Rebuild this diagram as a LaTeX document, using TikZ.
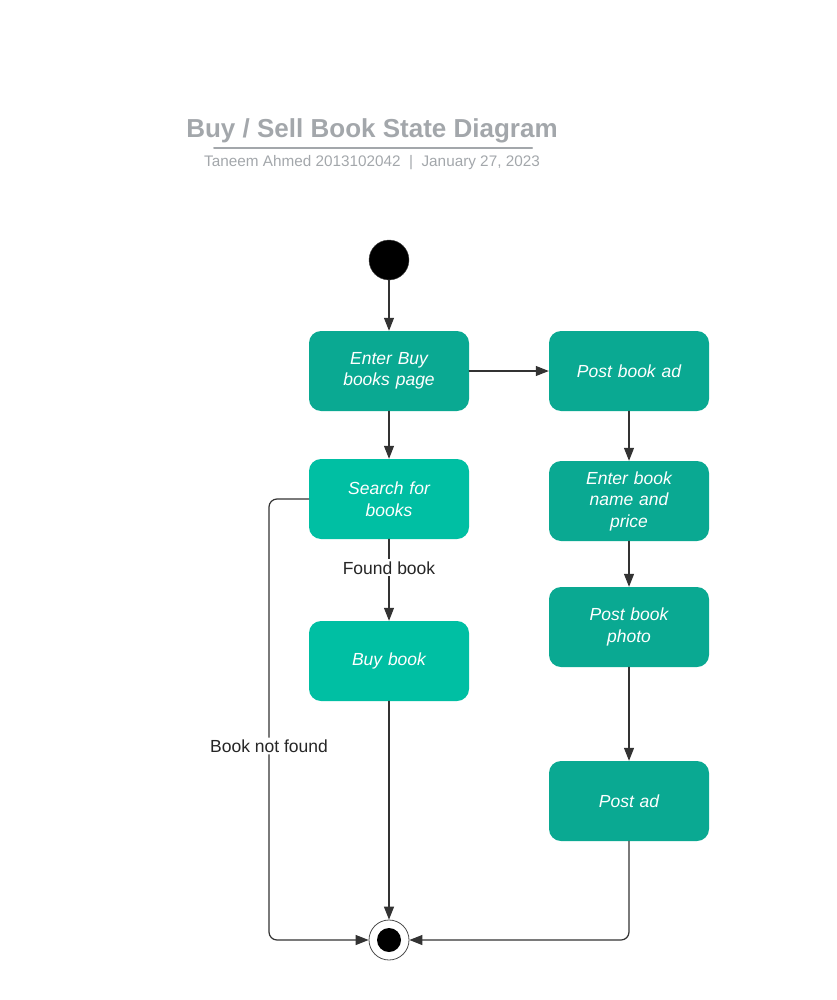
\documentclass[tikz,border=0pt]{standalone}
\usepackage{fontspec}
\setmainfont{Liberation Sans}
\usetikzlibrary{arrows.meta}
\usetikzlibrary{positioning}
\definecolor{tealdark}{HTML}{0AA992}
\definecolor{teallight}{HTML}{00BFA3}
\definecolor{titlegray}{HTML}{A3A7AB}
\definecolor{linegray}{HTML}{333333}
\begin{document}
\begin{tikzpicture}[line cap=round,line join=round,x=1pt,y=-1pt,
  >={Triangle[length=13pt,width=10pt]},
  state/.style={rectangle,rounded corners=12pt,minimum width=160pt,minimum height=80pt,text width=130pt,align=center,text=white,font=\fontsize{17.5}{21.5}\selectfont\itshape},
  darkstate/.style={state,fill=tealdark},
  lightstate/.style={state,fill=teallight},
  flow/.style={->,color=linegray,line width=1.2pt},
  lbl/.style={fill=white,inner sep=2pt,text=black!85,font=\fontsize{17.5}{21}\selectfont}]
\useasboundingbox (0,0) rectangle (836,1000);
\node[text=titlegray,font=\fontsize{26}{30}\selectfont\bfseries] (title) at (372,131) {Buy / Sell Book State Diagram};
\draw[titlegray,line width=2pt] (214,148) -- (532,148);
\node[text=titlegray,font=\fontsize{15.3}{18}\selectfont] (sub) at (372,163) {Taneem Ahmed 2013102042\ \ |\ \ January 27, 2023};
\node[circle,fill=black,draw=black!70,minimum size=40pt,inner sep=0pt] (start) at (389,260) {};
\node[darkstate] (enterbuy) at (389,371) {Enter Buy\\books page};
\node[darkstate] (postbookad) at (629,371) {Post book ad};
\node[lightstate] (search) at (389,499) {Search for\\books};
\node[darkstate] (entername) at (629,501) {Enter book\\name and\\price};
\node[darkstate] (photo) at (629,627) {Post book\\photo};
\node[lightstate] (buybook) at (389,661) {Buy book};
\node[darkstate] (postad) at (629,801) {Post ad};
\node[circle,draw=black!70,fill=white,line width=0.8pt,minimum size=40pt,inner sep=0pt] (final) at (389,940) {};
\node[circle,fill=black,minimum size=24pt,inner sep=0pt] (finaldot) at (final) {};
\draw[flow] (start) -- (enterbuy);
\draw[flow] (enterbuy) -- (postbookad);
\draw[flow] (enterbuy) -- (search);
\draw[flow] (search) -- node[lbl,pos=0.35] {Found book} (buybook);
\draw[flow,rounded corners=8pt] (search.west) -| (269,746) node[lbl] {Book not found} |- (final.west);
\draw[flow] (buybook) -- (final);
\draw[flow] (postbookad) -- (entername);
\draw[flow] (entername) -- (photo);
\draw[flow] (photo) -- (postad);
\draw[flow,rounded corners=8pt] (postad.south) |- (final.east);
\end{tikzpicture}
\end{document}
